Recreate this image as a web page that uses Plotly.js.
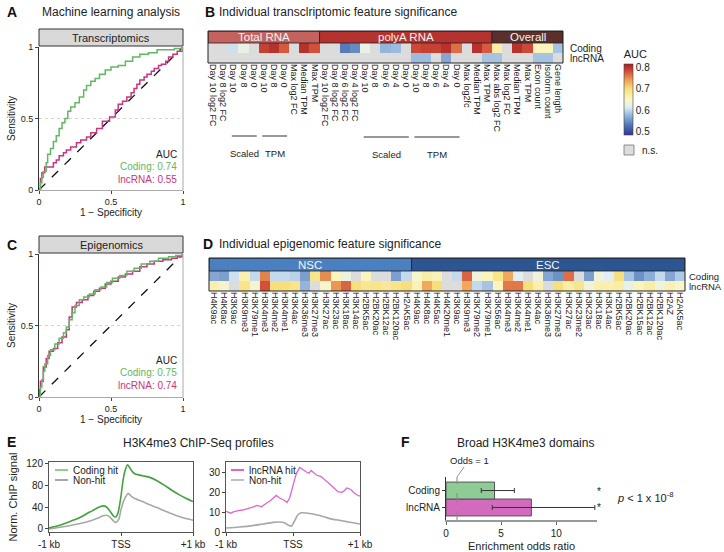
<!DOCTYPE html>
<html><head><meta charset="utf-8">
<script src="https://cdn.plot.ly/plotly-3.0.1.min.js"></script>
<style>html,body{margin:0;padding:0;background:#fff}</style>
</head><body><div id="chart" style="width:724px;height:552px"></div>
<script>
// ---------------- DATA ----------------
// Panel A (Transcriptomics ROC)
const rocA_codingFpr = [0,0.01,0.02,0.03,0.05,0.06,0.08,0.10,0.12,0.14,0.16,0.18,0.20,0.22,0.25,0.28,0.31,0.33,0.36,0.39,0.42,0.46,0.50,0.55,0.60,0.65,0.70,0.76,0.82,0.88,0.94,1];
const rocA_codingTpr = [0,0.05,0.09,0.13,0.19,0.25,0.29,0.34,0.38,0.43,0.47,0.50,0.55,0.58,0.61,0.65,0.70,0.73,0.76,0.78,0.81,0.84,0.86,0.87,0.90,0.93,0.95,0.96,0.98,0.98,0.99,1];
const rocA_lncFpr = [0,0.01,0.02,0.04,0.07,0.10,0.12,0.14,0.17,0.19,0.22,0.26,0.29,0.33,0.36,0.40,0.44,0.49,0.53,0.55,0.58,0.61,0.64,0.66,0.68,0.70,0.73,0.75,0.78,0.80,0.83,0.85,0.88,0.90,0.93,0.96,1];
const rocA_lncTpr = [0,0.08,0.12,0.16,0.16,0.19,0.21,0.24,0.26,0.28,0.30,0.33,0.35,0.37,0.40,0.43,0.48,0.51,0.56,0.60,0.62,0.65,0.68,0.71,0.74,0.77,0.79,0.81,0.83,0.85,0.87,0.88,0.90,0.93,0.95,0.97,1];
const aucA = {coding: "0.74", lnc: "0.55"};
// Panel C (Epigenomics ROC)
const rocC_codingFpr = [0,0.01,0.02,0.03,0.04,0.06,0.08,0.11,0.14,0.17,0.19,0.21,0.23,0.25,0.28,0.31,0.35,0.39,0.43,0.47,0.51,0.56,0.61,0.66,0.71,0.77,0.83,0.90,0.95,1];
const rocC_codingTpr = [0,0.07,0.12,0.18,0.23,0.29,0.33,0.37,0.41,0.45,0.49,0.54,0.59,0.64,0.68,0.70,0.72,0.75,0.77,0.80,0.83,0.85,0.88,0.90,0.93,0.95,0.97,0.98,0.99,1];
const rocC_lncFpr = [0,0.005,0.01,0.03,0.05,0.07,0.10,0.13,0.16,0.19,0.21,0.23,0.26,0.30,0.34,0.38,0.42,0.46,0.50,0.55,0.60,0.65,0.70,0.75,0.80,0.86,0.92,0.96,1];
const rocC_lncTpr = [0,0.05,0.11,0.21,0.27,0.32,0.34,0.38,0.42,0.47,0.56,0.63,0.66,0.68,0.71,0.74,0.76,0.79,0.81,0.84,0.86,0.88,0.91,0.93,0.95,0.96,0.97,0.98,1];
const aucC = {coding: "0.75", lnc: "0.74"};
const diagonal = [0, 1];

// Panel B (transcriptomic heatmap)
const totalLabels = ["Day 10 log2 FC","Day 8 log2 FC","Day 10","Day 8","Day 0","Day 10","Day 8","Day 0","Max log2 FC","Median TPM","Max TPM"];
const polyaLabels = ["Day 10 log2 FC","Day 8 log2 FC","Day 6 log2 FC","Day 4 log2 FC","Day 10","Day 8","Day 6","Day 4","Day 0","Day 10","Day 8","Day 6","Day 4","Day 0","Max log2fc","Median TPM","Max TPM"];
const overallLabels = ["Max abs log2 FC","Max log2 FC","Median TPM","Max TPM","Exon count","Isoform count","Gene length"];
const codingTotal = [null,null,0.605,0.625,null,0.79,0.80,0.775,null,0.80,0.78];
const codingPolyA = [null,null,0.535,0.545,0.625,null,0.575,0.58,null,0.785,0.79,0.79,0.80,0.765,null,0.80,0.775];
const codingOverall = [0.67,null,0.80,0.785,0.655,0.655,0.585];
const lncTotal = [null,null,null,null,null,null,null,null,null,null,null];
const lncPolyA = [null,null,null,null,null,null,null,null,null,0.58,0.58,null,0.565,null,null,null,0.585];
const lncOverall = [0.585,null,null,null,0.585,0.585,null];

// Panel D (epigenomic heatmap)
const nscLabels = ["H4K9ac","H4K8ac","H3K9ac","H3K9me3","H3K79me1","H3K4me3","H3K4me2","H3K4me1","H3K4ac","H3K36me3","H3K27me3","H3K27ac","H3K23ac","H3K18ac","H3K14ac","H2BK5ac","H2BK20ac","H2BK12ac","H2BK120ac","H2AK5ac"];
const escLabels = ["H4K9ac","H4K8ac","H4K5ac","H4K20me1","H3K9ac","H3K9me3","H3K79me2","H3K79me1","H3K56ac","H3K4me3","H3K4me2","H3K4me1","H3K4ac","H3K36me3","H3K27me3","H3K27ac","H3K23me2","H3K23ac","H3K18ac","H3K14ac","H2BK5ac","H2BK20ac","H2BK15ac","H2BK12ac","H2BK120ac","H2AZ","H2AK5ac"];
const codingNSC = [0.565,0.56,0.605,0.665,0.60,0.755,0.60,0.60,0.595,0.56,0.69,0.75,0.655,0.63,null,0.655,null,null,0.56,0.60];
const codingESC = [0.645,0.67,0.66,null,0.60,0.77,0.635,0.655,0.69,0.735,0.615,null,0.635,0.565,0.55,0.765,null,0.56,0.635,0.615,0.70,0.585,0.55,0.57,0.60,0.565,0.59];
const lncNSC = [0.665,0.64,null,0.69,0.64,0.78,0.70,0.70,0.69,0.575,null,0.645,0.745,0.77,0.70,0.685,0.69,0.68,0.69,0.70];
const lncESC = [0.66,0.735,0.70,null,null,0.735,0.60,0.585,0.655,0.76,0.76,0.70,0.665,null,0.70,0.67,0.69,0.635,0.665,0.665,0.67,0.625,0.655,0.67,0.635,0.66,0.645];
const rowLabels = ["lncRNA","Coding"];

// Panel E (H3K4me3 ChIP-Seq profiles)
const eCodingX = [-1,-0.9,-0.8,-0.7,-0.6,-0.5,-0.45,-0.4,-0.35,-0.3,-0.25,-0.2,-0.15,-0.1,-0.07,-0.04,0,0.03,0.06,0.09,0.12,0.16,0.2,0.3,0.4,0.5,0.6,0.7,0.8,0.9,1];
const eCodingHit = [2,5,9,14,19,26,30,33,37,40,42,40,32,23,22,30,60,90,108,117,112,104,100,97,94,88,80,71,63,56,50];
const eNonHitLX = [-1,-0.8,-0.6,-0.4,-0.3,-0.25,-0.2,-0.15,-0.1,-0.07,-0.03,0,0.04,0.08,0.1,0.14,0.2,0.3,0.4,0.5,0.6,0.7,0.8,0.9,1];
const eNonHitL = [0,4,9,16,21,24,25,21,14,12,18,35,52,62,65,60,55,50,44,39,33,28,23,19,16];
const eLncX = [-1,-0.96,-0.93,-0.89,-0.85,-0.8,-0.75,-0.7,-0.64,-0.6,-0.54,-0.5,-0.47,-0.43,-0.39,-0.34,-0.29,-0.25,-0.2,-0.16,-0.13,-0.09,-0.05,0,0.05,0.1,0.15,0.2,0.24,0.27,0.31,0.35,0.42,0.5,0.55,0.6,0.67,0.72,0.75,0.8,0.84,0.87,0.91,0.95,1];
const eLncHit = [10.3,9.8,9.4,10.1,10.5,10.8,11,11.6,12.1,12.4,13.3,12.9,12.6,13.6,14.4,15.6,17.1,18.3,17,16.4,15.9,14.8,17,23.2,29.2,32.3,31,30,29.4,30.8,29.6,28.5,27.7,25.5,24,22.4,20.2,19.8,20.2,22,21.6,21,19.6,18.6,17.9];
const eNonHitRX = [-1,-0.8,-0.6,-0.45,-0.3,-0.2,-0.12,-0.06,-0.02,0.03,0.07,0.12,0.2,0.3,0.4,0.5,0.6,0.7,0.8,0.9,1];
const eNonHitR = [2,2.5,3.2,4,4.8,5,4.5,3.2,3,6,8.5,9.6,9.5,9,8.2,7.2,6.3,5.8,5.2,4.6,4];
const eTicks = ["-1 kb","TSS","+1 kb"];

// Panel F (Broad H3K4me3 domains)
const fCategories = ["lncRNA","Coding"];
const fOdds = [7.75, 4.4];
const fLower = [4.2, 3.2];
const fUpper = [13.5, 6.2];

// ---------------- HELPERS ----------------
const W = 724, H = 552;
const fx = x => x / W;
const fy = y => 1 - y / H;
const FONT = "Liberation Sans, Arial, Helvetica, sans-serif";
const GREEN = "#62b862", MAGENTA = "#cc3380";
const NS = "#dcdcdc";
const colorscale = [
  [0, "#313695"], [0.136, "#4f74b5"], [0.288, "#9cbcdf"], [0.394, "#e2eef4"],
  [0.5, "#fbf6c4"], [0.652, "#f6df7c"], [0.773, "#eea057"], [0.894, "#d2503a"], [1, "#a51c24"]
];
const annotations = [];
const shapes = [];
function txt(text, x, y, o) {
  annotations.push(Object.assign({text: text, x: fx(x), y: fy(y), xref: "paper", yref: "paper",
    showarrow: false, xanchor: "left", yanchor: "middle", font: {size: 11, color: "#222"}}, o || {}));
}
const traces = [];

// ---------------- ROC PANELS ----------------
function roc(xa, ya, cf, ct, lf, lt) {
  traces.push({x: diagonal, y: diagonal, xaxis: xa, yaxis: ya, mode: "lines", line: {color: "#111", dash: "dash", width: 1.3}, hoverinfo: "skip", showlegend: false});
  traces.push({x: lf, y: lt, xaxis: xa, yaxis: ya, mode: "lines", line: {color: MAGENTA, width: 1.5, shape: "hv"}, cliponaxis: false, showlegend: false});
  traces.push({x: cf, y: ct, xaxis: xa, yaxis: ya, mode: "lines", line: {color: GREEN, width: 1.5, shape: "hv"}, cliponaxis: false, showlegend: false});
}
roc("x", "y", rocA_codingFpr, rocA_codingTpr, rocA_lncFpr, rocA_lncTpr);
roc("x3", "y3", rocC_codingFpr, rocC_codingTpr, rocC_lncFpr, rocC_lncTpr);

function rocAxes(top, bottom) {
  const xa = {domain: [fx(39), fx(183)], range: [0, 1], tickvals: [0, 0.5, 1], ticktext: ["0", "0.5", "1"],
    ticks: "outside", ticklen: 3, tickcolor: "#444", tickfont: {size: 9}, showline: true, linecolor: "#aaa",
    showgrid: false, zeroline: false, title: {text: "1 − Specificity", font: {size: 10}, standoff: 3}};
  const ya = {domain: [fy(bottom), fy(top)], range: [0, 1], tickvals: [0, 0.5, 1], ticktext: ["0", "0.5", "1"],
    ticks: "outside", ticklen: 3, tickcolor: "#444", tickfont: {size: 9}, showline: true, linecolor: "#333",
    showgrid: false, zeroline: false, title: {text: "Sensitivity", font: {size: 10}, standoff: 3}};
  return [xa, ya];
}
const [xA, yA] = rocAxes(47, 190);
const [xC, yC] = rocAxes(254, 397);
xA.anchor = "y"; yA.anchor = "x"; xC.anchor = "y3"; yC.anchor = "x3";

function rocDeco(xa, ya, stripTop, stripBottom, label, auc, aucY) {
  shapes.push({type: "line", xref: xa + " domain", yref: ya + " domain", x0: 1, x1: 1, y0: 0, y1: 1, line: {color: "#aaa", width: 1}});
  shapes.push({type: "line", xref: xa + " domain", yref: ya, x0: 0, x1: 1, y0: 0.5, y1: 0.5, line: {color: "#d4d4d4", width: 1, dash: "dot"}, layer: "below"});
  shapes.push({type: "rect", xref: "paper", yref: "paper", x0: fx(39), x1: fx(183), y0: fy(stripBottom), y1: fy(stripTop), fillcolor: "#d9d9d9", line: {color: "#333", width: 1}});
  txt(label, 111, (stripTop + stripBottom) / 2, {xanchor: "center", font: {size: 11, color: "#222"}});
  txt("AUC", 179, aucY, {xanchor: "right", font: {size: 10, color: "#222"}});
  txt("Coding: " + auc.coding, 179, aucY + 12.5, {xanchor: "right", font: {size: 10, color: GREEN}});
  txt("lncRNA: " + auc.lnc, 179, aucY + 25, {xanchor: "right", font: {size: 10, color: MAGENTA}});
}
rocDeco("x", "y", 29, 46, "Transcriptomics", aucA, 154);
rocDeco("x3", "y3", 236, 253, "Epigenomics", aucC, 360);

// ---------------- HEATMAPS ----------------
function heat(xa, ya, coding, lnc) {
  const z = [lnc, coding];
  const ns = z.map(r => r.map(v => v === null ? 1 : null));
  const xs = coding.map((_, i) => i);
  traces.push({type: "heatmap", x: xs, y: [0, 1], z: ns, xaxis: xa, yaxis: ya, colorscale: [[0, NS], [1, NS]], zmin: 0, zmax: 1, showscale: false, hoverinfo: "skip"});
  traces.push({type: "heatmap", x: xs, y: [0, 1], z: z, xaxis: xa, yaxis: ya, coloraxis: "coloraxis", hoverongaps: false});
}
const bLabels = totalLabels.concat(polyaLabels, overallLabels);
heat("x2", "y2", codingTotal.concat(codingPolyA, codingOverall), lncTotal.concat(lncPolyA, lncOverall));
const dLabels = nscLabels.concat(escLabels);
heat("x4", "y4", codingNSC.concat(codingESC), lncNSC.concat(lncESC));

function heatAxes(x0, x1, top, bottom, labels, headTop, yanchor) {
  const xa = {domain: [fx(x0), fx(x1)], range: [-0.5, labels.length - 0.5], tickvals: labels.map((_, i) => i), ticktext: labels,
    tickangle: 90, ticks: "", tickfont: {size: 9, color: "#222"}, showgrid: false, zeroline: false, showline: false, anchor: yanchor, fixedrange: true};
  const ya = {domain: [fy(bottom), fy(top)], range: [-0.5, headTop], showticklabels: false,
    ticks: "", showgrid: false, zeroline: false, showline: false};
  return [xa, ya];
}
const [xB, yB] = heatAxes(208, 563, 31, 63, bLabels, 2.7, "y2");
yB.anchor = "x2";
const [xD, yD] = heatAxes(209, 685, 258, 291, dLabels, 2.8, "y4");
yD.anchor = "x4";
// row labels to the right of each heatmap
function rowLab(ya, xPix, size) {
  rowLabels.forEach((r, i) => annotations.push({text: r, xref: "paper", yref: ya, x: fx(xPix), y: i, xanchor: "left", yanchor: "middle",
    showarrow: false, borderpad: 0, font: {size: size, color: "#222"}}));
}
rowLab("y2", 569, 10);
rowLab("y4", 688, 9.5);

function bands(xa, ya, groups, headTop) {
  let start = 0;
  groups.forEach(g => {
    shapes.push({type: "rect", xref: xa, yref: ya, x0: start - 0.5, x1: start + g.n - 0.5, y0: 1.5, y1: headTop, fillcolor: g.color, line: {color: "#222", width: 0.8}});
    annotations.push({text: g.name, xref: xa, yref: ya, x: start + (g.n - 1) / 2, y: (1.5 + headTop) / 2, showarrow: false, font: {size: 11.5, color: "#f4f4f4"}});
    start += g.n;
  });
  shapes.push({type: "rect", xref: xa + " domain", yref: ya + " domain", x0: 0, x1: 1, y0: 0, y1: 1, line: {color: "#222", width: 1}});
}
bands("x2", "y2", [{name: "Total RNA", n: totalLabels.length, color: "#c4625e"}, {name: "polyA RNA", n: polyaLabels.length, color: "#b5332f"}, {name: "Overall", n: overallLabels.length, color: "#5b302c"}], 2.7);
bands("x4", "y4", [{name: "NSC", n: nscLabels.length, color: "#4a7fc0"}, {name: "ESC", n: escLabels.length, color: "#2c5592"}], 2.8);

// Sub-group brackets under panel B
function bracket(a, b, label, lineY, textY) {
  shapes.push({type: "line", xref: "x2", yref: "paper", x0: a - 0.15, x1: b + 0.3, y0: fy(lineY), y1: fy(lineY), line: {color: "#333", width: 1}});
  annotations.push({text: label, xref: "x2", yref: "paper", x: (a + b) / 2 + 0.1, y: fy(textY), showarrow: false, font: {size: 9.5, color: "#222"}});
}
const tStart = 0, pStart = totalLabels.length;
bracket(tStart + 2, tStart + 4, "Scaled", 136, 146);
bracket(tStart + 5, tStart + 7, "TPM", 136, 146);
bracket(pStart + 4, pStart + 8, "Scaled", 137, 147);
bracket(pStart + 9, pStart + 13, "TPM", 137, 147);

// n.s. key
shapes.push({type: "rect", xref: "paper", yref: "paper", x0: fx(624), x1: fx(634), y0: fy(155), y1: fy(145), fillcolor: NS, line: {color: "#777", width: 0.8}});
txt("n.s.", 640, 150, {font: {size: 10, color: "#222"}});

// ---------------- PANEL E ----------------
traces.push({x: eNonHitLX, y: eNonHitL, xaxis: "x5", yaxis: "y5", mode: "lines", line: {color: "#a8a8a8", width: 1.6, shape: "spline", smoothing: 0.6}, showlegend: false});
traces.push({x: eCodingX, y: eCodingHit, xaxis: "x5", yaxis: "y5", mode: "lines", line: {color: "#43a23e", width: 1.6, shape: "spline", smoothing: 0.6}, showlegend: false});
traces.push({x: eNonHitRX, y: eNonHitR, xaxis: "x6", yaxis: "y6", mode: "lines", line: {color: "#a8a8a8", width: 1.6, shape: "spline", smoothing: 0.6}, showlegend: false});
traces.push({x: eLncX, y: eLncHit, xaxis: "x6", yaxis: "y6", mode: "lines", line: {color: "#dd66cc", width: 1.3}, showlegend: false});

function eAxes(x0, x1, range, tickvals, ytitle) {
  const xa = {domain: [fx(x0), fx(x1)], range: [-1, 1], tickvals: [-1, 0, 1], ticktext: eTicks, ticks: "outside", ticklen: 3, tickcolor: "#444",
    tickfont: {size: 10}, showline: true, linecolor: "#555", mirror: true, showgrid: false, zeroline: false};
  const ya = {domain: [fy(532), fy(462)], range: range, tickvals: tickvals, ticks: "outside", ticklen: 3, tickcolor: "#444",
    tickfont: {size: 10}, showline: true, linecolor: "#555", mirror: true, showgrid: false, zeroline: false};
  if (ytitle) ya.title = {text: ytitle, font: {size: 11}, standoff: 6};
  return [xa, ya];
}
const [xE1, yE1] = eAxes(49, 193, [-5.5, 122], [0, 40, 80, 120], "Norm. ChIP signal");
xE1.anchor = "y5"; yE1.anchor = "x5";
const [xE2, yE2] = eAxes(226, 360, [0, 35], [0, 10, 20, 30], null);
xE2.anchor = "y6"; yE2.anchor = "x6";
// legends (drawn keys)
function key(x, y, color, label) {
  shapes.push({type: "line", xref: "paper", yref: "paper", x0: fx(x), x1: fx(x + 13), y0: fy(y), y1: fy(y), line: {color: color, width: 2}});
  txt(label, x + 16, y, {font: {size: 10, color: "#222"}});
}
key(55, 470, "#8fcf86", "Coding hit");
key(55, 480, "#a8a8a8", "Non-hit");
key(231, 470, "#dd66cc", "lncRNA hit");
key(231, 480, "#c0c0c0", "Non-hit");

// ---------------- PANEL F ----------------
traces.push({type: "bar", orientation: "h", y: fCategories, x: fOdds, xaxis: "x7", yaxis: "y7",
  marker: {color: ["#d26bbe", "#8fcc95"], line: {color: "#555", width: 1}},
  error_x: {type: "data", symmetric: false, array: fUpper.map((u, i) => u - fOdds[i]), arrayminus: fLower.map((l, i) => fOdds[i] - l), color: "#333", thickness: 1, width: 2.5},
  showlegend: false, width: 1});
const xF = {domain: [fx(446), fx(597)], range: [0, 13.7], tickvals: [0, 5, 10], ticks: "outside", ticklen: 3, tickcolor: "#666",
  tickfont: {size: 10}, showline: true, linecolor: "#999", linewidth: 2, showgrid: false, zeroline: false, anchor: "y7",
  title: {text: "Enrichment odds ratio", font: {size: 11}, standoff: 6}};
const yF = {domain: [fy(520), fy(477)], type: "category", categoryorder: "array", categoryarray: fCategories, range: [-0.74, 1.8],
  ticks: "outside", ticklen: 3, tickcolor: "#333", tickfont: {size: 10}, showline: true, linecolor: "#333", showgrid: false, zeroline: false, anchor: "x7"};
shapes.push({type: "line", xref: "x7", yref: "y7 domain", x0: 1, x1: 1, y0: 0, y1: 1, line: {color: "#888", width: 1, dash: "dash"}});
annotations.push({text: "Odds = 1", xref: "x7", yref: "paper", x: 1, y: fy(477), showarrow: true, arrowhead: 0, arrowwidth: 0.8, arrowcolor: "#777",
  ax: 12, ay: -17, font: {size: 9.5, color: "#222"}});
txt("*", 599, 491, {xanchor: "center", font: {size: 10, color: "#222"}});
txt("*", 599, 507, {xanchor: "center", font: {size: 10, color: "#222"}});
txt("<i>p</i> < 1 x 10<sup>-8</sup>", 615, 497, {font: {size: 11, color: "#222"}});

// ---------------- TITLES / LETTERS ----------------
txt("<b>A</b>", 5, 12, {font: {size: 14, color: "#111"}});
txt("Machine learning analysis", 111, 12, {xanchor: "center", font: {size: 12, color: "#222"}});
txt("<b>B</b>", 203, 12, {font: {size: 14, color: "#111"}});
txt("Individual transclriptomic feature significance", 217, 12, {font: {size: 12, color: "#222"}});
txt("<b>C</b>", 5, 245, {font: {size: 14, color: "#111"}});
txt("<b>D</b>", 201, 244, {font: {size: 14, color: "#111"}});
txt("Individual epigenomic feature significance", 217, 244, {font: {size: 12, color: "#222"}});
txt("<b>E</b>", 5, 442, {font: {size: 14, color: "#111"}});
txt("H3K4me3 ChIP-Seq profiles", 198, 443, {xanchor: "center", font: {size: 12, color: "#222"}});
txt("<b>F</b>", 399, 442, {font: {size: 14, color: "#111"}});
txt("Broad H3K4me3 domains", 525, 443, {xanchor: "center", font: {size: 12, color: "#222"}});

const layout = {
  width: W, height: H, margin: {l: 0, r: 0, t: 0, b: 0}, paper_bgcolor: "#fff", plot_bgcolor: "rgba(0,0,0,0)",
  font: {family: FONT, size: 10, color: "#222"}, showlegend: false, bargap: 0,
  xaxis: xA, yaxis: yA, xaxis2: xB, yaxis2: yB, xaxis3: xC, yaxis3: yC, xaxis4: xD, yaxis4: yD,
  xaxis5: xE1, yaxis5: yE1, xaxis6: xE2, yaxis6: yE2, xaxis7: xF, yaxis7: yF,
  coloraxis: {cmin: 0.485, cmax: 0.815, colorscale: colorscale,
    colorbar: {x: fx(624), xanchor: "left", y: fy(91), yanchor: "middle", len: 88, lenmode: "pixels", thickness: 9, thicknessmode: "pixels",
      xpad: 0, ypad: 0, outlinewidth: 0.6, outlinecolor: "#444", tickvals: [0.5, 0.6, 0.7, 0.8], ticktext: ["0.5", "0.6", "0.7", "0.8"],
      ticks: "", tickfont: {size: 10}, title: {text: "AUC", side: "top", font: {size: 11}}}},
  shapes: shapes, annotations: annotations
};
Plotly.newPlot("chart", traces, layout, {staticPlot: true, displayModeBar: false});
</script></body></html>
